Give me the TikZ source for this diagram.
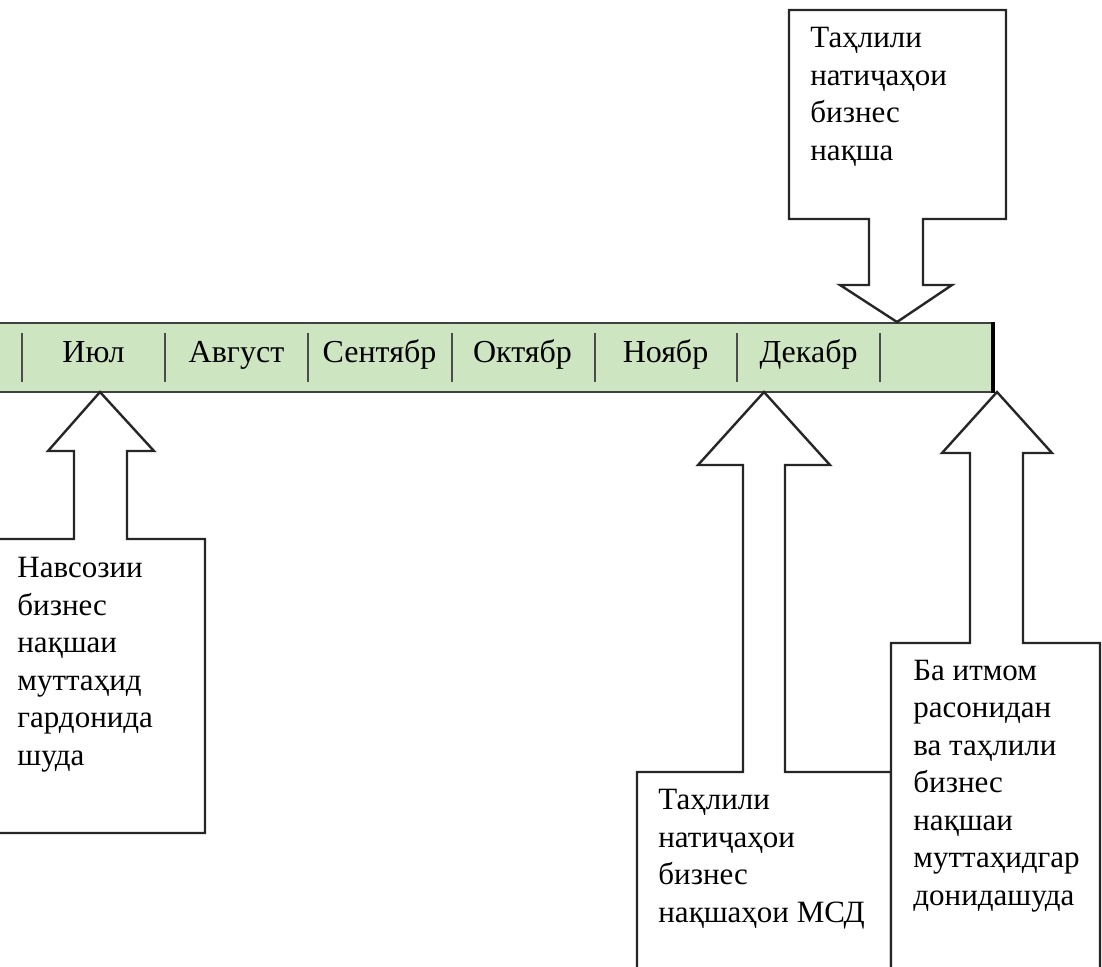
\documentclass[tikz,border=0pt]{standalone}
\usepackage{fontspec}
\setmainfont{Liberation Serif}
\usetikzlibrary{positioning}
\definecolor{leistengruen}{RGB}{206,229,194}

\begin{document}
\begin{tikzpicture}[line join=miter,x=0.5pt,y=-0.5pt,
  pfeilkasten/.style={draw=black!85,line width=1.2pt,fill=white},
  monat/.style={anchor=base,font=\fontsize{16}{18}\selectfont},
  kastentext/.style={anchor=base west,align=left,inner sep=0pt,font=\fontsize{15.5}{18.75}\selectfont}]
  \useasboundingbox (0,0) rectangle (1102,966);
  \clip (0,0) rectangle (1102,966);

  \draw[fill=leistengruen,draw=black!75,line width=1.1pt] (-20,323) rectangle (993,392); % Leiste
  \draw[line width=1.6pt] (993,322) -- (993,393); % rechter Rand
  \foreach \x in {22,165,308,452,595,737,880}
  \draw[black!70,line width=0.6pt] (\x,333) -- (\x,382); % Trennstriche
  \foreach \m [count=\i] in {Июл,Август,Сентябр,Октябр,Ноябр,Декабр}
  \node[monat] (monat\i) at (93.5+143*\i-143,362) {\m}; % Monate

  % Pfeil oben (Textanker = letzte Zeile)
  \draw[pfeilkasten] (789,10) -- (1006,10) -- (1006,219) -- (923,219) -- (923,285) -- (952,285)
     -- (897,322) -- (840,285) -- (869,285) -- (869,219) -- (789,219) -- cycle;
  \node[kastentext] (tahlil) at (810,160) {Таҳлили\\натиҷаҳои\\бизнес\\нақша};

  % Pfeil Июл
  \draw[pfeilkasten] (-20,539) -- (74,539) -- (74,451) -- (48,451) -- (100,392) -- (154,451)
     -- (127,451) -- (127,539) -- (205,539) -- (205,833) -- (-20,833) -- cycle;
  \node[kastentext] (navsozi) at (17,765) {Навсозии\\бизнес\\нақшаи\\муттаҳид\\гардонида\\шуда};

  % Pfeil Декабр
  \draw[pfeilkasten] (637,1000) -- (637,772) -- (743,772) -- (743,465) -- (698,465) -- (764,392)
     -- (830,465) -- (785,465) -- (785,772) -- (891,772) -- (891,1000);
  \node[kastentext] (natija) at (658,922) {Таҳлили\\натиҷаҳои\\бизнес\\нақшаҳои МСД};

  % Pfeil rechts
  \draw[pfeilkasten] (891,1000) -- (891,643) -- (970,643) -- (970,453) -- (942,453) -- (997,392)
     -- (1052,453) -- (1023,453) -- (1023,643) -- (1100,643) -- (1100,1000);
  \node[kastentext] (itmom) at (913,905) {Ба итмом\\расонидан\\ва таҳлили\\бизнес\\нақшаи\\муттаҳидгар\\донидашуда};
\end{tikzpicture}
\end{document}
